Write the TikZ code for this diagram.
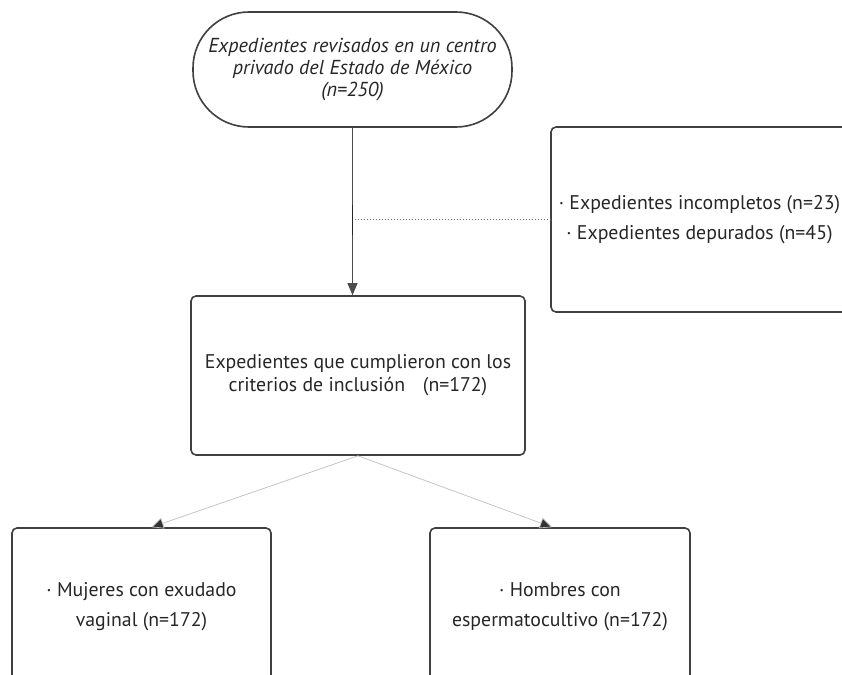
\documentclass[tikz,border=0pt]{standalone}
\usepackage{fontspec}
\setmainfont{PT Sans}
\usetikzlibrary{arrows.meta}
\tikzset{
  box/.style={rectangle,draw=black!75,line width=1.6pt,rounded corners=5pt,align=center,
    font=\fontsize{19.8}{23}\selectfont,text=black!85},
  flow/.style={draw=black!70,line width=1pt,-{Triangle[length=12pt,width=10pt]}},
  split/.style={draw=black!25,line width=0.7pt,-{Triangle[length=12pt,width=11pt,fill=black!80]}},
}
\begin{document}
\begin{tikzpicture}[x=1pt,y=-1pt]
    \useasboundingbox (0,0) rectangle (842,674);
    \node (origen) at (352.5,69.5) [box,rounded corners=56pt,minimum width=319pt,minimum height=115pt,
      font=\fontsize{20.2}{22}\selectfont\itshape] {Expedientes revisados en un centro\\privado del Estado de México\\(n=250)};
    \node (excluidos) at (699.5,219.5) [box,minimum width=297pt,minimum height=185pt,
      font=\fontsize{19.8}{30}\selectfont]
      {· Expedientes incompletos (n=23)\\ · Expedientes depurados (n=45)};
    \node (incluidos) at (358,375.5) [box,minimum width=334pt,minimum height=159pt]
      {Expedientes que cumplieron con los\\criterios de inclusión\hspace{0.9em}(n=172)};
    \node (mujeres) at (141.5,607) [box,minimum width=259pt,minimum height=158pt,
      font=\fontsize{19.8}{30}\selectfont]
      {· Mujeres con exudado\\vaginal (n=172)};
    \node (hombres) at (560,607) [box,minimum width=260pt,minimum height=158pt,
      font=\fontsize{19.8}{30}\selectfont]
      {· Hombres con\\espermatocultivo (n=172)};
    \coordinate (cruce) at (origen.south |- excluidos.west);
    \draw [flow] (origen.south) -- (origen.south |- incluidos.north);
    \draw [black!85,line width=1.8pt] ([yshift=-15pt]cruce) -- ([yshift=15pt]cruce);
    \draw [black!55,line width=1pt,dotted] ([xshift=2pt]cruce) -- (excluidos.west);
    \draw [split] (incluidos.south) -- ([xshift=10pt]mujeres.north);
    \draw [split] (incluidos.south) -- ([xshift=-8pt]hombres.north);
  \end{tikzpicture}
\end{document}
